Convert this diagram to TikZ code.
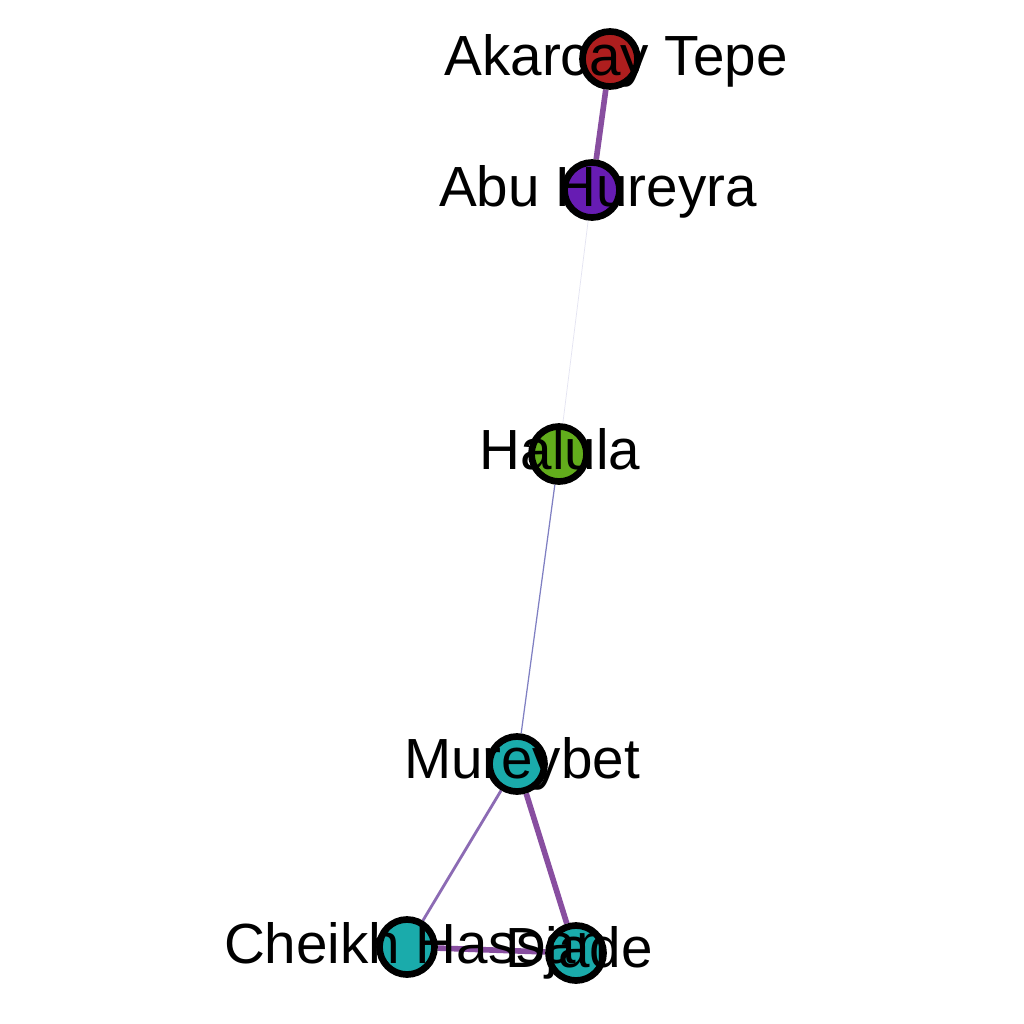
\documentclass[tikz,border=0pt]{standalone}
\usepackage{fontspec}
\setmainfont{Liberation Sans}
\usetikzlibrary{backgrounds}

\definecolor{siteRed}{HTML}{AE1E1E}
\definecolor{sitePurple}{HTML}{671CB3}
\definecolor{siteGreen}{HTML}{62AD1C}
\definecolor{siteTeal}{HTML}{1AABAB}
\definecolor{linkStrong}{HTML}{884EA0}
\definecolor{linkMid}{HTML}{8C6BB4}
\definecolor{linkWeak}{HTML}{7F7FC2}
\definecolor{linkFaint}{HTML}{E4E4F2}

\begin{document}
\begin{tikzpicture}[x=0.01cm, y=-0.01cm,
        site/.style={circle, draw=black, line width=1.9pt, minimum size=0.55cm, inner sep=0pt},
        sitename/.style={anchor=base, inner sep=0pt, font=\fontsize{16.1}{19}\selectfont}]
                \useasboundingbox (0, 0) rectangle (1024, 1024);
                \node[site, fill=siteRed] (akarcay) at (610, 59) {};
                \node[site, fill=sitePurple] (abu) at (592, 190) {};
                \node[site, fill=siteGreen] (halula) at (559, 454) {};
                \node[site, fill=siteTeal] (mureybet) at (517, 764) {};
                \node[site, fill=siteTeal] (cheikh) at (407, 947) {};
                \node[site, fill=siteTeal] (djade) at (576, 953) {};
                \begin{scope}[on background layer]
                    \fill[white] (0, 0) rectangle (1024, 1024);
                    \draw[linkStrong, line width=1.6pt] (akarcay) -- (abu);
                    \draw[linkFaint, line width=0.2pt] (abu) -- (halula);
                    \draw[linkWeak, line width=0.35pt] (halula) -- (mureybet);
                    \draw[linkMid, line width=0.8pt] (mureybet) -- (cheikh);
                    \draw[linkStrong, line width=1.6pt] (mureybet) -- (djade);
                    \draw[linkStrong, line width=1.6pt] (cheikh) -- (djade);
                \end{scope}
                \node[sitename] (akarcay-l) at (616, 75) {Akarcay Tepe};
                \node[sitename] (abu-l) at (598, 206) {Abu Hureyra};
                \node[sitename] (halula-l) at (560, 469) {Halula};
                \node[sitename] (mureybet-l) at (522, 778) {Mureybet};
                \node[sitename] (cheikh-l) at (416, 963) {Cheikh Hassan};
                \node[sitename] (djade-l) at (579, 967) {Djade};
            \end{tikzpicture}
\end{document}
